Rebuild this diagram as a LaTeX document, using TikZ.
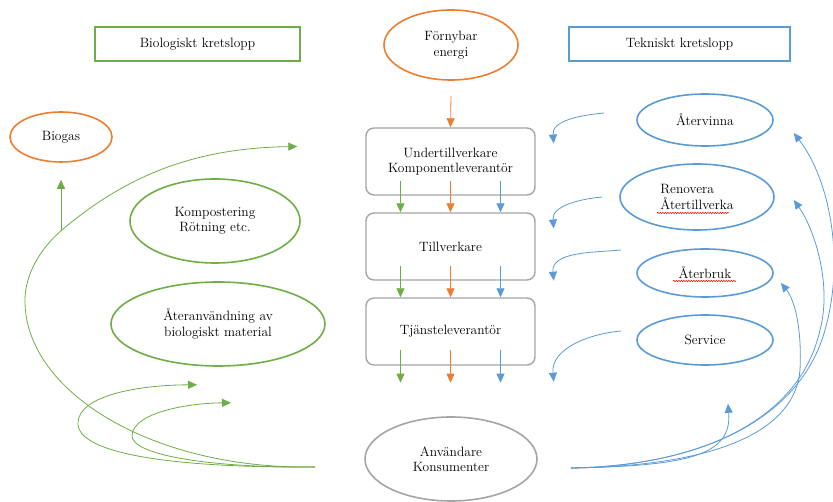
\documentclass[tikz,border=0pt]{standalone}
\usepackage{tikz}
\usetikzlibrary{arrows.meta,shapes.geometric,decorations.pathmorphing}
\definecolor{bgreen}{HTML}{70AD47}
\definecolor{borange}{HTML}{ED7D31}
\definecolor{bblue}{HTML}{5B9BD5}
\definecolor{bgray}{HTML}{A5A5A5}

\begin{document}
\begin{tikzpicture}[x=1pt,y=-1pt,>={Triangle[length=9pt,width=8pt]},font=\fontsize{13.5}{15.5}\selectfont,
  titlebox/.style={draw,line width=1.6pt,minimum width=205pt,minimum height=34pt},
  loopell/.style={ellipse,draw,line width=1.6pt,align=center},
  stagebox/.style={draw=bgray,line width=1.4pt,rounded corners=8pt,minimum width=169pt,minimum height=67pt,align=center},
  flow/.style={->,line width=0.8pt},
  squiggle/.style={red,line width=0.5pt,decorate,decoration={snake,amplitude=0.7pt,segment length=2.5pt}}]
\useasboundingbox (0,0) rectangle (833,502);
% Headings and the energy source.
\node[titlebox,draw=bgreen] (bio) at (197.5,44) {Biologiskt kretslopp};
\node[titlebox,draw=bblue,minimum width=221pt] (tek) at (679.5,44) {Tekniskt kretslopp};
\node[loopell,draw=borange,minimum width=134pt,minimum height=70pt] (energi) at (451,45) {Förnybar\\energi};
% Biological side.
\node[loopell,draw=borange,minimum width=102pt,minimum height=50pt] (biogas) at (61,137) {Biogas};
\node[loopell,draw=bgreen,minimum width=170pt,minimum height=84pt] (kompost) at (215,221) {Kompostering\\Rötning etc.};
\node[loopell,draw=bgreen,minimum width=214pt,minimum height=84pt] (ateranv) at (218,324) {Återanvändning av\\biologiskt material};
% The value chain in the middle.
\node[stagebox] (under) at (450.5,161.5) {Undertillverkare\\Komponentleverantör};
\node[stagebox] (tillv) at (450.5,246.5) {Tillverkare};
\node[stagebox] (tjanst) at (450.5,331.5) {Tjänsteleverantör};
\node[loopell,draw=bgray,minimum width=172pt,minimum height=84pt] (anv) at (451,459) {Användare\\Konsumenter};
% Technical side.
\node[loopell,draw=bblue,minimum width=136pt,minimum height=52pt] (atervinna) at (705,120) {Återvinna};
\node[loopell,draw=bblue,minimum width=154pt,minimum height=66pt,align=left] (renovera) at (697,197) {Renovera\\Återtillverka};
\node[loopell,draw=bblue,minimum width=136pt,minimum height=48pt] (aterbruk) at (705,273) {Återbruk};
\node[loopell,draw=bblue,minimum width=136pt,minimum height=50pt] (service) at (705,340) {Service};
\draw[squiggle] ([xshift=-40pt,yshift=-16pt]renovera.center) -- ++(72pt,0);
\draw[squiggle] ([xshift=-32pt,yshift=-8pt]aterbruk.center) -- ++(63pt,0);
% Flows down the chain.
\draw[flow,draw=borange] ([yshift=-15pt]energi.south) -- (under.north);
\foreach \dx/\col in {-50/bgreen,0/borange,50/bblue}{
\draw[flow,draw=\col] ([xshift=\dx pt,yshift=15pt]under.south) -- ([xshift=\dx pt]tillv.north);
\draw[flow,draw=\col] ([xshift=\dx pt,yshift=15pt]tillv.south) -- ([xshift=\dx pt]tjanst.north);
\draw[flow,draw=\col] ([xshift=\dx pt,yshift=16pt]tjanst.south) -- ([xshift=\dx pt,yshift=-17pt]tjanst.south);}
% Technical loops back into the chain.
\draw[flow,draw=bblue] ([xshift=-32pt,yshift=7pt]atervinna.west) to[out=185,in=95] ([xshift=18pt,yshift=18pt]under.east);
\draw[flow,draw=bblue] ([xshift=-17pt]renovera.west) to[out=185,in=95] ([xshift=18pt,yshift=18pt]tillv.east);
\draw[flow,draw=bblue] ([xshift=-15pt,yshift=23pt]aterbruk.west) to[out=185,in=95] ([xshift=18pt]tillv.south east);
\draw[flow,draw=bblue] ([xshift=-15pt,yshift=9pt]service.west) to[out=185,in=95] ([xshift=18pt,yshift=-16pt]tjanst.south east);
% From the users out to the technical loops.
\coordinate (bstart) at ([xshift=33pt,yshift=-9pt]anv.east);
\draw[flow,draw=bblue] (bstart) .. controls (700,466) and (800,420) .. (825,330) .. controls (845,260) and (830,180) .. ([xshift=20pt,yshift=-13pt]atervinna.east);
\draw[flow,draw=bblue] (bstart) .. controls (700,466) and (800,420) .. (820,330) .. controls (832,285) and (815,230) .. ([xshift=19pt,yshift=-3pt]renovera.east);
\draw[flow,draw=bblue] (bstart) .. controls (720,466) and (795,430) .. (800,370) .. controls (802,330) and (795,300) .. ([xshift=7pt,yshift=-10pt]aterbruk.east);
\draw[flow,draw=bblue] (bstart) .. controls (690,466) and (732,455) .. ([xshift=23pt,yshift=-38pt]service.south);
% From the users out to the biological loops.
\coordinate (gstart) at ([xshift=-49pt,yshift=-8pt]anv.west);
\coordinate (gbranch) at ([yshift=-68pt]biogas.south);
\draw[flow,draw=bgreen] (gstart) .. controls (150,470) and (24,390) .. (25,300) .. controls (25,275) and (40,249) .. (gbranch) .. controls (130,172) and (200,148) .. ([xshift=-68pt,yshift=15pt]under.west);
\draw[flow,draw=bgreen] (gbranch) -- ([yshift=-17pt]biogas.south);
\draw[flow,draw=bgreen] (gstart) .. controls (180,468) and (75,455) .. (78,422) .. controls (80,395) and (140,385) .. ([xshift=-21pt,yshift=-18pt]ateranv.south);
\draw[flow,draw=bgreen] (gstart) .. controls (210,468) and (130,455) .. (132,435) .. controls (134,412) and (190,403) .. ([xshift=13pt,yshift=-36pt]ateranv.south);
\end{tikzpicture}
\end{document}
